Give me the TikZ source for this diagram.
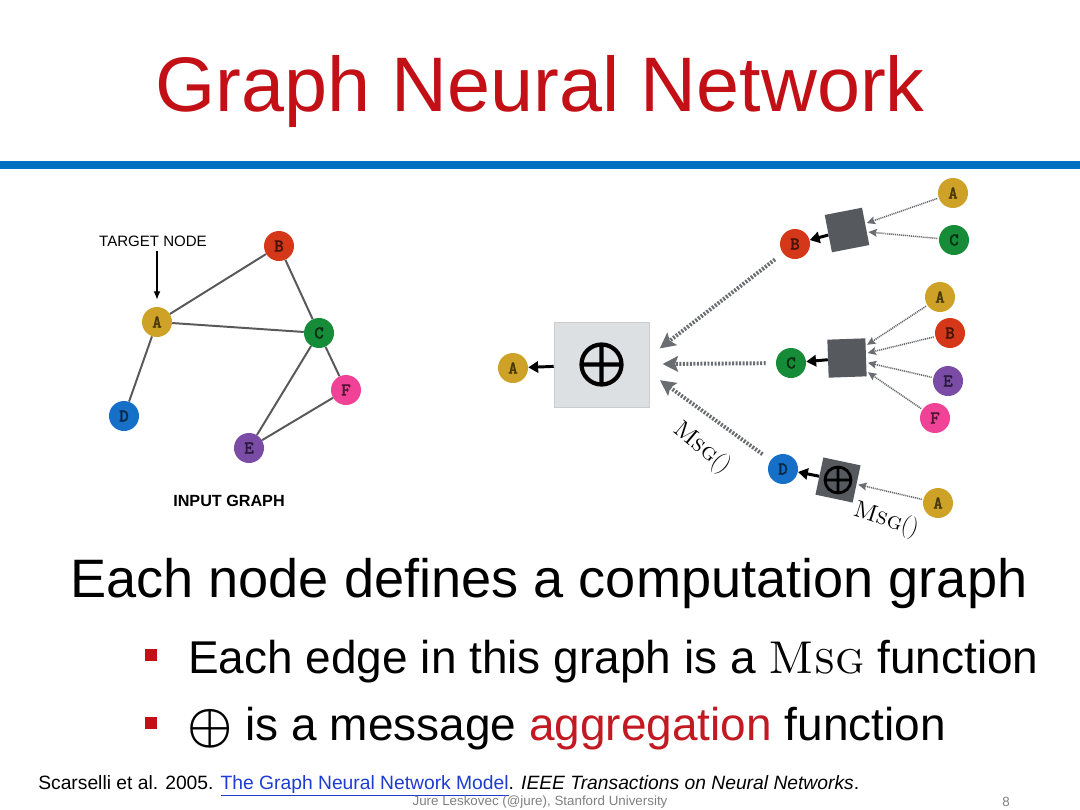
\documentclass[tikz,border=0pt]{standalone}
\usepackage{amsmath,amssymb}
\usepackage{fontspec}
\setsansfont{Liberation Sans}
\newfontfamily\codefont{lmmonolt10-bold.otf}[FakeBold=1.2]
\usetikzlibrary{arrows.meta}
\definecolor{titlered}{RGB}{195,16,22}
\definecolor{barblue}{RGB}{0,112,192}
\definecolor{ngold}{RGB}{206,162,38}
\definecolor{nred}{RGB}{212,56,24}
\definecolor{ngreen}{RGB}{22,140,56}
\definecolor{nblue}{RGB}{22,112,200}
\definecolor{npurple}{RGB}{122,76,166}
\definecolor{npink}{RGB}{240,66,150}
\definecolor{boxgray}{RGB}{221,224,227}
\definecolor{sqgray}{RGB}{86,90,94}
\definecolor{dotgray}{RGB}{105,108,112}
\definecolor{aggred}{RGB}{195,25,35}
\definecolor{linkblue}{RGB}{30,60,210}

\begin{document}
\begin{tikzpicture}[x=0.025cm, y=-0.025cm, every node/.style={font=\sffamily}, >={Latex[length=6pt,width=5pt]},
	gnode/.style={circle, inner sep=0pt, minimum size=0.75cm, fill=#1, text=#1!35!black, font=\codefont\fontsize{13}{13}\selectfont},
	edge/.style={draw=black!65, line width=1.4pt},
	aggbox/.style={draw=black!20, fill=boxgray, minimum width=2.375cm, minimum height=2.125cm},
	msgsq/.style={fill=sqgray, inner sep=0pt, minimum size=0.95cm},
	outarr/.style={line width=2.1pt, -{Triangle[length=7pt,width=8pt]}},
	bigmsg/.style={draw=dotgray, line width=2.8pt, dash pattern=on 1.4pt off 1.1pt, shorten <=0.25cm, shorten >=0.33cm, -{Stealth[length=11pt,width=11pt,inset=2pt]}},
	smallmsg/.style={draw=dotgray, line width=1.1pt, dash pattern=on 0.8pt off 0.6pt, shorten <=1pt, shorten >=1pt, -{Stealth[length=6pt,width=5.5pt,inset=1pt]}},
	msglabel/.style={font=\rmfamily\fontsize{17}{17}\selectfont},
	bulletsq/.style={fill=titlered, inner sep=0pt, minimum size=0.3cm}]
	\fill[white] (0,0) rectangle (1080,810);
	\useasboundingbox (0,0) rectangle (1080,810);
	\node[anchor=base, text=titlered, font=\sffamily\fontsize{55}{55}\selectfont] (title) at (540,111) {Graph Neural Network};
	\draw[barblue, line width=5.7pt] (0,165) -- (1080,165);

	\node[gnode=ngold] (A) at (157,322) {A};
	\node[gnode=nred] (B) at (279,246) {B};
	\node[gnode=ngreen] (C) at (319,333) {C};
	\node[gnode=nblue] (D) at (124,416) {D};
	\node[gnode=npurple] (E) at (249,448) {E};
	\node[gnode=npink] (F) at (346,390) {F};
	\draw[edge] (A) -- (B) (A) -- (C) (A) -- (D) (B) -- (C) (C) -- (E) (C) -- (F) (E) -- (F);
	\node[font=\sffamily\fontsize{10.7}{12}\selectfont] (target) at (153,241) {TARGET NODE};
	\draw[line width=1pt, ->] (target.south -| A) -- ([yshift=5pt]A.north);
	\node[font=\sffamily\bfseries\fontsize{11.5}{12}\selectfont] (input) at (229,501) {INPUT GRAPH};

	\node[gnode=ngold] (A0) at (513,368) {A};
	\node[aggbox] (agg) at (601.5,364.5) {};
	\draw[line width=3pt] (agg.center) circle[radius=20] (agg.center) ++(-20,0) -- ++(40,0) (agg.center) ++(0,-20) -- ++(0,40);
	\node[gnode=nred] (B1) at (795,244) {B};
	\node[gnode=ngreen] (C1) at (791,363) {C};
	\node[gnode=nblue] (D1) at (783,469) {D};
	\node[msgsq, rotate=11] (sqB) at (847,230) {};
	\node[msgsq, rotate=2] (sqC) at (847,358) {};
	\node[msgsq, rotate=-12] (sqD) at (838,480) {};
	\draw[line width=2pt] (sqD.center) circle[radius=13] (sqD.center) ++(-13,0) -- ++(26,0) (sqD.center) ++(0,-13) -- ++(0,26);
	\node[gnode=ngold] (A2) at (953,193) {A};
	\node[gnode=ngreen] (C2) at (954,240) {C};
	\node[gnode=ngold] (A3) at (940,297) {A};
	\node[gnode=nred] (B3) at (950,333) {B};
	\node[gnode=npurple] (E3) at (948,381) {E};
	\node[gnode=npink] (F3) at (935,418) {F};
	\node[gnode=ngold] (A4) at (938,503) {A};

	\draw[outarr] (agg) -- (A0);
	\draw[outarr] (sqB) -- (B1);
	\draw[outarr] (sqC) -- (C1);
	\draw[outarr] (sqD) -- (D1);
	\draw[bigmsg] (B1) -- ([yshift=0.2cm]agg.east);
	\draw[bigmsg] (C1) -- (agg);
	\draw[bigmsg] (D1) -- ([yshift=-0.2cm]agg.east);
	\foreach \leaf/\sq in {A2/sqB, C2/sqB, A3/sqC, B3/sqC, E3/sqC, F3/sqC, A4/sqD}
		\draw[smallmsg] (\leaf) -- (\sq);
	\node[msglabel, rotate=-40] (msgD) at (702,448) {\textsc{Msg}()};
	\node[msglabel, rotate=-18] (msgA) at (886,520) {\textsc{Msg}()};

	\node[anchor=base west, inner sep=0pt, font=\sffamily\fontsize{38.5}{38.5}\selectfont] (lead) at (70,597) {Each node defines a computation graph};
	\node[bulletsq] (b1) at (151,655) {};
	\node[anchor=base west, inner sep=0pt, font=\sffamily\fontsize{32.7}{33}\selectfont] (item1) at (188,673) {Each edge in this graph is a \textrm{\textsc{Msg}} function};
	\node[bulletsq] (b2) at (151,723) {};
	\node[anchor=base west, inner sep=0pt, font=\sffamily\fontsize{32.7}{33}\selectfont] (item2) at (187,740) {\raisebox{-1pt}{\scalebox{1.45}{$\boldsymbol{\oplus}$}} is a message \textcolor{aggred}{aggregation} function};

	\node[anchor=base west, inner sep=0pt, font=\sffamily\fontsize{13.7}{15}\selectfont] (cite) at (38,789) {Scarselli et al. 2005. \textcolor{linkblue}{\underline{The Graph Neural Network Model}}. \textit{IEEE Transactions on Neural Networks}.};
	\node[text=black!50, font=\sffamily\fontsize{9.5}{10}\selectfont] (credit) at (540,802) {Jure Leskovec (@jure), Stanford University};
	\node[text=black!50, font=\sffamily\fontsize{9.5}{10}\selectfont] (page) at (1006,802) {8};
\end{tikzpicture}
\end{document}
